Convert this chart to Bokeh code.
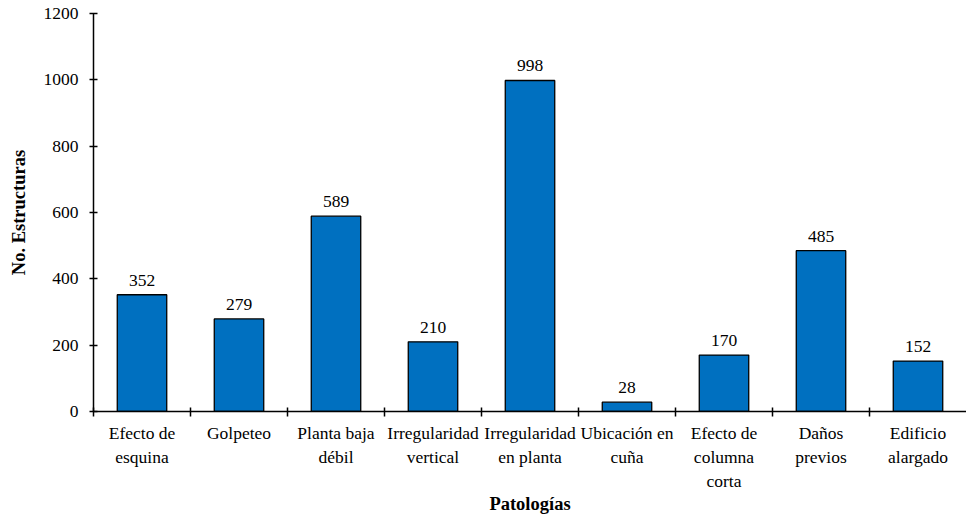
from bokeh.plotting import figure
from bokeh.models import ColumnDataSource, FixedTicker, Range1d
from bokeh.core.properties import value
from bokeh.embed import file_html
from bokeh.resources import INLINE

categories = ["Efecto de\nesquina", "Golpeteo", "Planta baja\ndébil", "Irregularidad\nvertical",
              "Irregularidad\nen planta", "Ubicación en\ncuña", "Efecto de\ncolumna\ncorta",
              "Daños\nprevios", "Edificio\nalargado"]
values = [352, 279, 589, 210, 998, 28, 170, 485, 152]
y_ticks = [0, 200, 400, 600, 800, 1000, 1200]

FONT = "'Liberation Serif', 'Times New Roman', serif"

xs = [i + 0.5 for i in range(len(categories))]
src = ColumnDataSource(dict(x=xs, top=values, label=[str(v) for v in values]))

p = figure(width=966, height=516, output_backend="svg", toolbar_location=None,
           x_range=Range1d(0, len(categories)), y_range=Range1d(0, 1200))
p.min_border_left = 93
p.min_border_top = 13
p.min_border_right = 0
p.min_border_bottom = 105
p.outline_line_color = None
p.background_fill_color = "white"
p.border_fill_color = "white"

p.vbar(x="x", top="top", width=0.51, bottom=0, source=src,
       fill_color="#0070C0", line_color="black", line_width=1.3)
p.text(x="x", y="top", text="label", source=src, text_align="center",
       text_baseline="bottom", y_offset=-9, text_font_size="17.5px",
       text_font=value(FONT), text_color="black")

p.xgrid.visible = False
p.ygrid.ticker = FixedTicker(ticks=[1200])
p.ygrid.grid_line_color = "black"
p.ygrid.grid_line_width = 1.3

ya = p.yaxis[0]
ya.ticker = FixedTicker(ticks=y_ticks, minor_ticks=[])
ya.axis_label = "No. Estructuras"
ya.axis_label_text_font = FONT
ya.axis_label_text_font_style = "bold"
ya.axis_label_text_font_size = "18.5px"
ya.axis_label_text_color = "black"
ya.axis_label_standoff = 12
ya.major_label_text_font = FONT
ya.major_label_text_font_size = "17.5px"
ya.major_label_text_color = "black"
ya.major_label_standoff = 11
ya.major_tick_in = 4
ya.major_tick_out = 4
ya.minor_tick_line_color = None
ya.axis_line_color = "black"
ya.axis_line_width = 1.5
ya.major_tick_line_width = 1.5

xa = p.xaxis[0]
xa.ticker = FixedTicker(ticks=xs, minor_ticks=list(range(len(categories))))
xa.major_label_overrides = {x: c for x, c in zip(xs, categories)}
xa.axis_label = "Patologías"
xa.axis_label_text_font = FONT
xa.axis_label_text_font_style = "bold"
xa.axis_label_text_font_size = "18.5px"
xa.axis_label_text_color = "black"
xa.axis_label_standoff = 0
xa.major_label_text_font = FONT
xa.major_label_text_font_size = "17.5px"
xa.major_label_text_color = "black"
xa.major_label_standoff = 6
xa.major_tick_in = 0
xa.major_tick_out = 0
xa.minor_tick_in = 4
xa.minor_tick_out = 5
xa.minor_tick_line_width = 1.5
xa.axis_line_color = "black"
xa.axis_line_width = 1.5

open("out.html", "w").write(file_html(p, INLINE))
